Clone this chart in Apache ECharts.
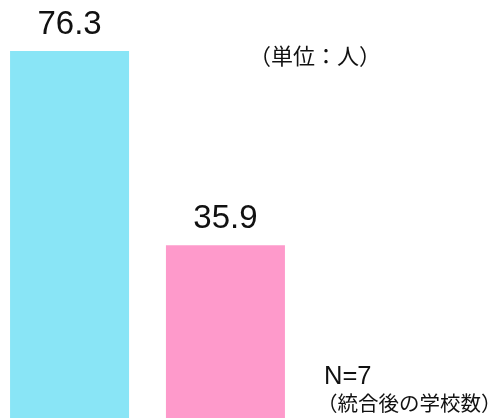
<!DOCTYPE html>
<html>
<head>
<meta charset="utf-8">
<script src="https://cdn.jsdelivr.net/npm/echarts@6/dist/echarts.min.js"></script>
<style>
  html, body { margin: 0; padding: 0; background: #fff; }
  #chart { width: 488px; height: 418px; }
</style>
</head>
<body>
<div id="chart"></div>
<script>
// Average count per school, before and after consolidation
const categories = ['統合前', '統合後'];
const values = [76.3, 35.9];
const barColors = ['#89E5F6', '#FE9ACB'];

const unitText = '（単位：人）';
const nText = 'N=7';
const nNote = '（統合後の学校数）';

const chart = echarts.init(document.getElementById('chart'), null, { renderer: 'canvas' });

// One bar per series, placed side by side inside a single slot
const series = categories.map((name, i) => ({
  type: 'bar',
  name: name,
  barWidth: 119,
  barGap: '31%',
  data: [values[i]],
  itemStyle: { color: barColors[i] },
  label: {
    show: true,
    position: 'top',
    distance: 10,
    color: '#111',
    fontFamily: 'Liberation Sans',
    fontSize: 33,
    formatter: p => p.value.toFixed(1)
  }
}));

chart.setOption({
  animation: false,
  grid: { left: 0, width: 295, top: 51, bottom: 0, containLabel: false },
  xAxis: {
    type: 'category',
    data: [''],
    show: false
  },
  yAxis: {
    type: 'value',
    min: 0,
    max: Math.max(...values),
    show: false
  },
  series: series,
  graphic: [
    {
      type: 'text',
      left: 249,
      top: 45,
      style: {
        text: unitText,
        fill: '#111',
        font: '22px "Noto Sans CJK JP"'
      }
    },
    {
      type: 'text',
      left: 324,
      top: 364,
      style: {
        text: nText,
        fill: '#111',
        font: '25.5px "Liberation Sans"'
      }
    },
    {
      type: 'text',
      left: 317,
      top: 393,
      style: {
        text: nNote,
        fill: '#111',
        font: '20.5px "Noto Sans CJK JP"'
      }
    }
  ]
});
</script>
</body>
</html>
